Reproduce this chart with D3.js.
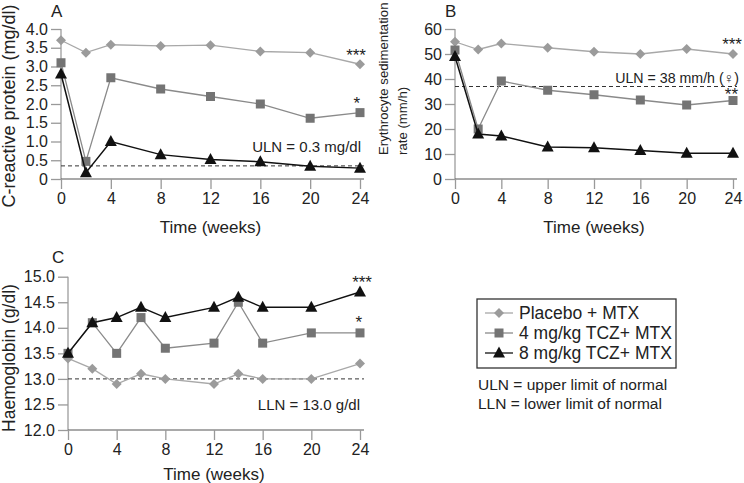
<!DOCTYPE html>
<html>
<head>
<meta charset="utf-8">
<script src="https://cdn.jsdelivr.net/npm/d3@7"></script>
<style>
body{margin:0;background:#fff;}
text{font-family:"Liberation Sans",Arial,sans-serif;fill:#222;}
</style>
</head>
<body>
<div id="graphique"></div>
<script>
// data
var weeksAB=[0,2,4,8,12,16,20,24];
var weeksC=[0,2,4,6,8,12,14,16,20,24];
var seriesNames=["Placebo + MTX","4 mg/kg TCZ+ MTX","8 mg/kg TCZ+ MTX"];

var crpPlacebo=[3.7,3.37,3.58,3.55,3.57,3.4,3.37,3.06];
var crp4=[3.1,0.47,2.7,2.4,2.2,2.0,1.62,1.77];
var crp8=[2.8,0.17,1.0,0.65,0.52,0.46,0.34,0.29];

var esrPlacebo=[54.9,51.8,54.2,52.5,50.9,50.0,52.0,50.0];
var esr4=[51.6,20.0,39.2,35.5,33.7,31.6,29.6,31.4];
var esr8=[49.0,18.0,17.2,12.8,12.5,11.4,10.3,10.3];

var hbPlacebo=[13.4,13.2,12.9,13.1,13.0,12.9,13.1,13.0,13.0,13.3];
var hb4=[13.5,14.1,13.5,14.2,13.6,13.7,14.5,13.7,13.9,13.9];
var hb8=[13.5,14.1,14.2,14.4,14.2,14.4,14.6,14.4,14.4,14.7];

var crpTicks=[0,0.5,1,1.5,2,2.5,3,3.5,4];
var esrTicks=[0,10,20,30,40,50,60];
var hbTicks=[12,12.5,13,13.5,14,14.5,15];
var weekTicks=[0,4,8,12,16,20,24];

var width=744,height=483;
var colors=["#9b9b9b","#747474","#111"];
var lineColors=["#a8a8a8","#8a8a8a","#111"];

var svg=d3.select("#graphique").append("svg")
    .attr("width",width).attr("height",height);

function marker(g,type,x,y,color){
    if(type==0){
        g.append("path").attr("d","M"+x+","+(y-5)+"L"+(x+5)+","+y+"L"+x+","+(y+5)+"L"+(x-5)+","+y+"Z")
         .attr("fill",color);
    } else if(type==1){
        g.append("rect").attr("x",x-4.5).attr("y",y-4.5).attr("width",9).attr("height",9)
         .attr("fill",color);
    } else {
        g.append("path").attr("d","M"+x+","+(y-6.5)+"L"+(x+6)+","+(y+4.5)+"L"+(x-6)+","+(y+4.5)+"Z")
         .attr("fill",color);
    }
}

function drawPanel(p){
    var x=d3.scaleLinear().domain([0,24]).range([p.x0,p.x1]);
    var y=d3.scaleLinear().domain(p.ydomain).range([p.y1,p.y0]);
    var g=svg.append("g");

    // y axis
    var ya=g.append("g").attr("transform","translate("+p.x0+",0)")
        .call(d3.axisLeft(y).tickValues(p.yticks).tickSize(10).tickPadding(3).tickFormat(p.fmt));
    ya.select(".domain").attr("stroke","#aaa").attr("stroke-width",1.5).attr("d","M0,"+p.y0+"V"+p.y1);
    ya.selectAll(".tick line").attr("stroke","#999").attr("stroke-width",1.3);
    ya.selectAll(".tick text").attr("font-size",16).attr("fill","#222")
        .attr("font-family","Liberation Sans, Arial, sans-serif");

    // x axis
    var xa=g.append("g").attr("transform","translate(0,"+p.y1+")")
        .call(d3.axisBottom(x).tickValues(weekTicks).tickSize(10).tickPadding(4));
    xa.select(".domain").attr("stroke","#555").attr("stroke-width",1.2).attr("d","M"+p.x0+",0H"+(p.x1+4));
    xa.selectAll(".tick line").attr("stroke","#999").attr("stroke-width",1.3);
    xa.selectAll(".tick text").attr("font-size",16).attr("fill","#222")
        .attr("font-family","Liberation Sans, Arial, sans-serif");

    g.append("text").attr("x",(p.x0+p.x1)/2).attr("y",p.y1+p.xty)
        .attr("text-anchor","middle").attr("font-size",17).text("Time (weeks)");

    // y title
    p.ytitle.forEach(function(t,i){
        g.append("text")
         .attr("transform","translate("+p.ytx[i]+","+p.yty+") rotate(-90)")
         .attr("text-anchor",p.yanchor).attr("font-size",p.ytsize).text(t);
    });

    // panel letter
    g.append("text").attr("x",p.lx).attr("y",p.ly).attr("font-size",17).text(p.letter);

    // reference line
    g.append("line").attr("x1",p.x0).attr("x2",p.x1+4)
        .attr("y1",y(p.ref)).attr("y2",y(p.ref))
        .attr("stroke","#333").attr("stroke-width",1).attr("stroke-dasharray","4,3");
    g.append("text").attr("x",p.refx).attr("y",p.refy).attr("text-anchor","end")
        .attr("font-size",p.refsize).text(p.refLabel);

    // series
    var line=d3.line().x(function(d){return x(d[0]);}).y(function(d){return y(d[1]);});
    p.series.forEach(function(s,k){
        var pts=p.weeks.map(function(w,i){return [w,s[i]];});
        g.append("path").attr("d",line(pts)).attr("fill","none")
         .attr("stroke",lineColors[k]).attr("stroke-width",k==2?1.5:1.3);
        pts.forEach(function(d){marker(g,k,x(d[0]),y(d[1]),colors[k]);});
    });

    // significance stars
    p.stars.forEach(function(s){
        g.append("text").attr("x",s[0]).attr("y",s[1]).attr("text-anchor","end")
         .attr("font-size",17).attr("fill","#444").text(s[2]);
    });
}

var fmt1=function(d){return d==0?"0":d3.format(".1f")(d);};

drawPanel({x0:61,x1:360,y0:29,y1:179,ydomain:[0,4],yticks:crpTicks,fmt:fmt1,
    weeks:weeksAB,series:[crpPlacebo,crp4,crp8],
    ytitle:["C-reactive protein (mg/dl)"],ytx:[15],yty:106,yanchor:"middle",ytsize:18,
    xty:54,letter:"A",lx:51,ly:17,
    ref:0.35,refLabel:"ULN = 0.3 mg/dl",refx:361,refy:152,refsize:15,
    stars:[[366,61,"***"],[360,109,"*"]]});

drawPanel({x0:455,x1:733,y0:29,y1:179,ydomain:[0,60],yticks:esrTicks,fmt:d3.format("d"),
    weeks:weeksAB,series:[esrPlacebo,esr4,esr8],
    ytitle:["Erythrocyte sedimentation","rate (mm/h)"],ytx:[388,407],yty:155,yanchor:"start",ytsize:13.2,
    xty:54,letter:"B",lx:445,ly:17,
    ref:37,refLabel:"ULN = 38 mm/h (\u2640)",refx:739,refy:83,refsize:14.2,
    stars:[[742,50,"***"],[738,100,"**"]]});

drawPanel({x0:68,x1:360,y0:276.7,y1:430,ydomain:[12,15],yticks:hbTicks,fmt:d3.format(".1f"),
    weeks:weeksC,series:[hbPlacebo,hb4,hb8],
    ytitle:["Haemoglobin (g/dl)"],ytx:[15],yty:358,yanchor:"middle",ytsize:17.5,
    xty:50,letter:"C",lx:52,ly:263,
    ref:13.0,refLabel:"LLN = 13.0 g/dl",refx:360,refy:410,refsize:15,
    stars:[[372,288,"***"],[362,328,"*"]]});

// legend
var lg=svg.append("g");
lg.append("rect").attr("x",477).attr("y",299).attr("width",199).attr("height",69)
  .attr("fill","none").attr("stroke","#333").attr("stroke-width",1.3);
seriesNames.forEach(function(n,k){
    var yy=313+k*20;
    lg.append("line").attr("x1",485).attr("x2",513).attr("y1",yy).attr("y2",yy)
      .attr("stroke",lineColors[k]).attr("stroke-width",1.3);
    marker(lg,k,499,yy,colors[k]);
    lg.append("text").attr("x",519).attr("y",yy+6).attr("font-size",17.5).text(n);
});
lg.append("text").attr("x",478).attr("y",390).attr("font-size",15.5).text("ULN = upper limit of  normal");
lg.append("text").attr("x",478).attr("y",409).attr("font-size",15.5).text("LLN = lower limit of normal");
</script>
</body>
</html>
